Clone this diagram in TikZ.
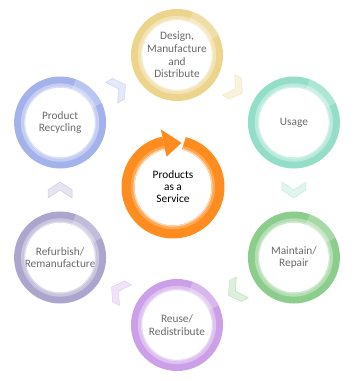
\documentclass[tikz,border=0pt]{standalone}
\usepackage{fontspec}
\setmainfont{Carlito}
\usepackage{tikz}
\usetikzlibrary{calc,positioning}

\definecolor{designcol}{RGB}{236,212,140}
\definecolor{usagecol}{RGB}{148,222,200}
\definecolor{maintcol}{RGB}{140,204,140}
\definecolor{reusecol}{RGB}{204,160,232}
\definecolor{refurbcol}{RGB}{172,166,206}
\definecolor{recyclecol}{RGB}{164,178,236}
\definecolor{paascol}{RGB}{255,140,30}
\definecolor{labelgray}{RGB}{105,105,105}

\begin{document}
\begin{tikzpicture}[x=0.75pt,y=0.75pt,
  ring/.style={circle, draw=#1, line width=8.25pt, minimum size=60.75pt,
    inner sep=0pt, align=center, font=\fontsize{8.5}{9.5}\selectfont, text=labelgray},
  hublabel/.style={align=center, font=\fontsize{8.5}{9}\selectfont, text=black},
  chevron/.style={fill=#1!30, draw=#1!55, line width=0.4pt, line join=round},
  gloss/.style={white, opacity=.55, line width=0.9pt}]
  \useasboundingbox (-177,-191) rectangle (177,190);

  \node[ring=designcol]  (design)    at (90:135)  {Design,\\Manufacture\\and\\Distribute};
  \node[ring=usagecol]   (usage)     at (30:135)  {Usage};
  \node[ring=maintcol]   (maintain)  at (-30:135) {Maintain/\\Repair};
  \node[ring=reusecol]   (reuse)     at (-90:135) {Reuse/\\Redistribute};
  \node[ring=refurbcol]  (refurbish) at (-150:135) {Refurbish/\\Remanufacture};
  \node[ring=recyclecol] (recycle)   at (150:135) {Product\\Recycling};

  % glossy edges
  \foreach \n/\col in {design/designcol, usage/usagecol, maintain/maintcol,
      reuse/reusecol, refurbish/refurbcol, recycle/recyclecol} {
    \draw[\col!65!white, line width=2.5pt] (\n.center) circle (37.5);
    \draw[gloss] (\n.center) circle (35.5);
    \draw[white, opacity=.25, line width=8.25pt]
      ([shift={(25:40.5)}]\n.center) arc[start angle=25, end angle=70, radius=40.5];
  }

  % chevrons between the stages
  \foreach \from/\to/\ang/\col in {design/usage/-30/designcol, usage/maintain/-90/usagecol,
      maintain/reuse/-150/maintcol, reuse/refurbish/150/reusecol,
      refurbish/recycle/90/refurbcol, recycle/design/30/recyclecol}
    \filldraw[chevron=\col, shift={($(\from)!.5!(\to)$)}, rotate=\ang]
      (-8,-12) -- (0,-12) -- (8,0) -- (0,12) -- (-8,12) -- (0,0) -- cycle;

  % centre cycle
  \node[hublabel] (paas) at (-4,3) {Products\\as a\\Service};
  \draw[paascol, line width=9.75pt]
    ([shift={(76:45)}]paas.center) arc[start angle=76, end angle=-258, radius=45];
  \draw[paascol!75!white, line width=2.5pt]
    ([shift={(76:40.5)}]paas.center) arc[start angle=76, end angle=-258, radius=40.5];
  \draw[paascol!35!white, line width=0.9pt]
    ([shift={(76:39)}]paas.center) arc[start angle=76, end angle=-258, radius=39];
  \fill[paascol] ([shift={(102:31)}]paas.center) -- ([shift={(102:59)}]paas.center)
    -- ([shift={(79:45)}]paas.center) -- cycle;
\end{tikzpicture}
\end{document}
